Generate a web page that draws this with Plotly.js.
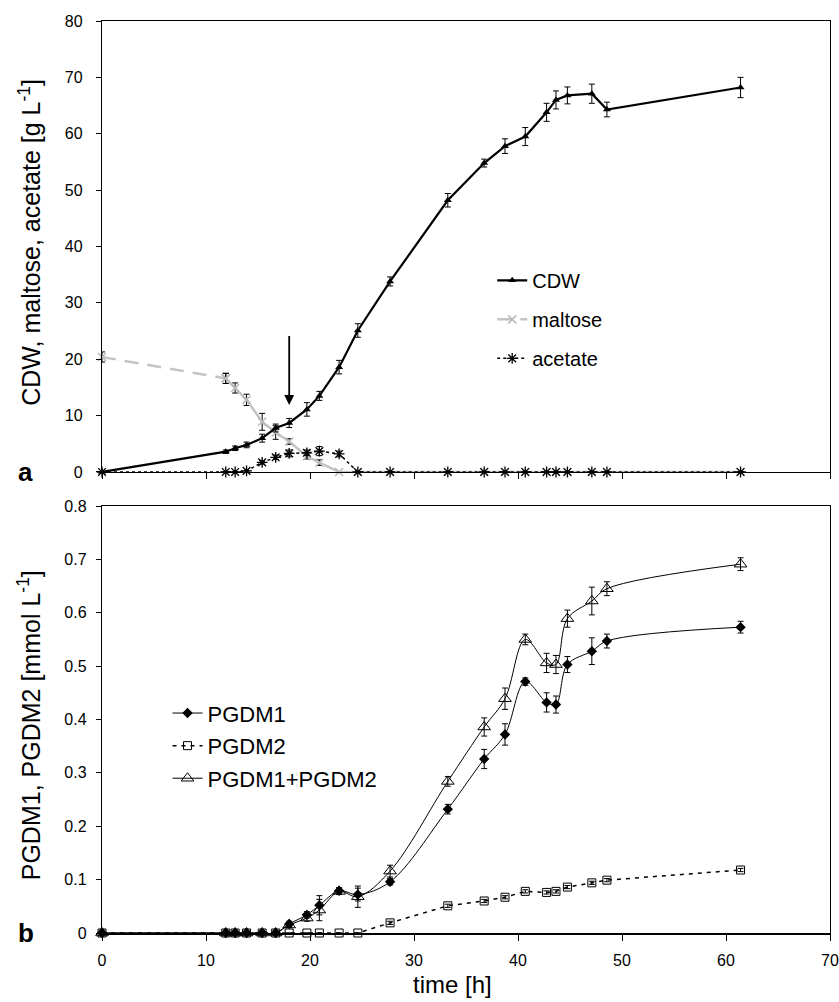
<!DOCTYPE html>
<html>
<head>
<meta charset="utf-8">
<script src="https://cdn.plot.ly/plotly-3.0.1.min.js"></script>
<style>html,body{margin:0;padding:0;background:#fff;}#chart{width:839px;height:1002px;}</style>
</head>
<body>
<div id="chart"></div>
<script>
// ---- data (time in hours) ----
var time = [0, 11.9, 12.8, 13.9, 15.4, 16.7, 18.0, 19.7, 20.9, 22.8, 24.6, 27.7, 33.25, 36.75, 38.75, 40.7, 42.75, 43.65, 44.75, 47.1, 48.55, 61.4];

// panel a  [g L-1]
var cdw      = [0, 3.6, 4.2, 4.8, 6.0, 7.8, 8.7, 11.1, 13.5, 18.6, 25.1, 33.8, 48.2, 54.8, 57.8, 59.5, 63.8, 66.0, 66.8, 67.1, 64.3, 68.2];
var cdwErr   = [0, 0.3, 0.4, 0.5, 0.7, 0.7, 0.8, 1.2, 0.8, 1.2, 1.2, 0.8, 1.2, 0.7, 1.3, 1.6, 1.6, 1.6, 1.5, 1.7, 1.3, 1.8];
var maltose  = [20.4, 16.6, 14.9, 12.8, 8.9, 7.0, 5.4, 2.8, 1.65, 0, 0, 0, 0, 0, 0, 0, 0, 0, 0, 0, 0, 0];
var maltErr  = [0.9, 0.9, 0.9, 1.0, 1.5, 1.2, 0.5, 0.5, 0.5, 0, 0, 0, 0, 0, 0, 0, 0, 0, 0, 0, 0, 0];
var acetate  = [0, 0, 0, 0.2, 1.7, 2.6, 3.3, 3.4, 3.7, 3.2, 0, 0, 0, 0, 0, 0, 0, 0, 0, 0, 0, 0];
var acetErr  = [0, 0, 0, 0, 0.3, 0.4, 0.6, 0.5, 0.8, 0.5, 0, 0, 0, 0, 0, 0, 0, 0, 0, 0, 0, 0];

// panel b  [mmol L-1]
var pgdm1    = [0, 0, 0, 0, 0, 0, 0.017, 0.034, 0.052, 0.079, 0.072, 0.096, 0.232, 0.326, 0.372, 0.471, 0.432, 0.428, 0.503, 0.528, 0.547, 0.573];
var pgdm1Err = [0, 0.003, 0.003, 0.003, 0.003, 0.003, 0.005, 0.006, 0.018, 0.006, 0.012, 0.006, 0.009, 0.018, 0.02, 0.007, 0.018, 0.016, 0.015, 0.025, 0.013, 0.011];
var pgdm2    = [0, 0, 0, 0, 0, 0, 0, 0, 0, 0, 0, 0.019, 0.051, 0.060, 0.067, 0.078, 0.076, 0.078, 0.086, 0.094, 0.099, 0.118];
var pgdm2Err = [0, 0, 0, 0, 0, 0, 0, 0, 0, 0, 0, 0.003, 0.003, 0.003, 0.003, 0.003, 0.003, 0.003, 0.003, 0.003, 0.003, 0.003];
var pgdmSum  = [0, 0, 0, 0, 0, 0, 0.015, 0.028, 0.043, 0.078, 0.068, 0.116, 0.284, 0.386, 0.439, 0.550, 0.506, 0.503, 0.589, 0.622, 0.645, 0.691];
var sumErr   = [0, 0.003, 0.003, 0.003, 0.003, 0.003, 0.005, 0.006, 0.02, 0.006, 0.02, 0.011, 0.009, 0.017, 0.02, 0.01, 0.018, 0.017, 0.016, 0.026, 0.013, 0.012];

var xTicks = [0, 10, 20, 30, 40, 50, 60, 70];

// ---- styling ----
var FONT = 'Liberation Sans, Arial, Helvetica, sans-serif';
function eb(arr, w) { return {type: 'data', array: arr, visible: true, color: '#000', thickness: 1, width: w || 3}; }

var traces = [
  // panel a
  {x: time.slice(0, 2), y: maltose.slice(0, 2), error_y: eb(maltErr.slice(0, 2)), name: 'maltose', legend: 'legend', legendgroup: 'm', legendrank: 2,
   mode: 'lines+markers', line: {color: '#c4c4c4', width: 2.5, dash: '14px,9px'},
   marker: {symbol: 'x-thin-open', size: 8, color: '#b8b8b8', line: {color: '#b8b8b8', width: 1.5}}, cliponaxis: false, xaxis: 'x', yaxis: 'y'},
  {x: time.slice(1), y: maltose.slice(1), error_y: eb(maltErr.slice(1)), name: 'maltose', showlegend: false, legendgroup: 'm',
   mode: 'lines+markers', line: {color: '#c4c4c4', width: 2.5},
   marker: {symbol: 'x-thin-open', size: 8, color: '#b8b8b8', line: {color: '#b8b8b8', width: 1.5}}, cliponaxis: false, xaxis: 'x', yaxis: 'y'},
  {x: time, y: acetate, error_y: eb(acetErr), name: 'acetate', legend: 'legend', legendgroup: 'a', legendrank: 3,
   mode: 'lines+markers', line: {color: '#000', width: 1.5, dash: 'dot'},
   marker: {symbol: 'asterisk-open', size: 9, color: '#000', line: {color: '#000', width: 1.3}}, cliponaxis: false, xaxis: 'x', yaxis: 'y'},
  {x: time, y: cdw, error_y: eb(cdwErr), name: 'CDW', legend: 'legend', legendgroup: 'c', legendrank: 1,
   mode: 'lines+markers', line: {color: '#000', width: 2.2},
   marker: {symbol: 'triangle-up', size: 7, color: '#000'}, cliponaxis: false, xaxis: 'x', yaxis: 'y'},
  // panel b
  {x: time, y: pgdm2, error_y: eb(pgdm2Err), name: 'PGDM2', legend: 'legend2', legendgroup: 'p2', legendrank: 2,
   mode: 'lines+markers', line: {color: '#000', width: 1.5, dash: '4px,5px'},
   marker: {symbol: 'square-open', size: 8, color: '#000', line: {color: '#000', width: 1}}, cliponaxis: false, xaxis: 'x2', yaxis: 'y2'},
  {x: time, y: pgdmSum, error_y: eb(sumErr), name: 'PGDM1+PGDM2', legend: 'legend2', legendgroup: 'p3', legendrank: 3,
   mode: 'lines+markers', line: {color: '#000', width: 1, shape: 'spline', smoothing: 1},
   marker: {symbol: 'triangle-up-open', size: 11, color: '#000', line: {color: '#000', width: 1}}, cliponaxis: false, xaxis: 'x2', yaxis: 'y2'},
  {x: time, y: pgdm1, error_y: eb(pgdm1Err), name: 'PGDM1', legend: 'legend2', legendgroup: 'p1', legendrank: 1,
   mode: 'lines+markers', line: {color: '#000', width: 1, shape: 'spline', smoothing: 1},
   marker: {symbol: 'diamond', size: 8, color: '#000'}, cliponaxis: false, xaxis: 'x2', yaxis: 'y2'}
];

var axisCommon = {showgrid: false, zeroline: false, showline: true, linecolor: '#000', mirror: true,
  ticks: 'outside', tickcolor: '#000', tickfont: {family: FONT, size: 16, color: '#000'}};

var layout = {
  width: 839, height: 1002,
  margin: {l: 102, r: 9, t: 21, b: 69},
  paper_bgcolor: '#fff', plot_bgcolor: '#fff',
  font: {family: FONT, color: '#000'},
  xaxis: Object.assign({}, axisCommon, {domain: [0, 1], anchor: 'y', range: [0, 70], tickvals: xTicks, ticklen: 6, linewidth: 1.5, showticklabels: false}),
  yaxis: Object.assign({}, axisCommon, {domain: [0.5055, 1], anchor: 'x', range: [0, 80], dtick: 10, ticklen: 5, linewidth: 1.2, ticklabelstandoff: 10}),
  xaxis2: Object.assign({}, axisCommon, {domain: [0, 1], anchor: 'y2', range: [0, 70], tickvals: xTicks, ticklen: 6, linewidth: 1.5, ticklabelstandoff: 6}),
  yaxis2: Object.assign({}, axisCommon, {domain: [0, 0.4682], anchor: 'x2', range: [0, 0.8], dtick: 0.1, ticklen: 5, linewidth: 1.2, ticklabelstandoff: 6}),
  legend: {x: 0.536, y: 0.737, xanchor: 'left', yanchor: 'top', bgcolor: 'rgba(0,0,0,0)', borderwidth: 0,
    font: {family: FONT, size: 20, color: '#000'}, traceorder: 'grouped', tracegroupgap: 10, itemwidth: 30},
  legend2: {x: 0.09, y: 0.264, xanchor: 'left', yanchor: 'top', bgcolor: 'rgba(0,0,0,0)', borderwidth: 0,
    font: {family: FONT, size: 22, color: '#000'}, traceorder: 'grouped', tracegroupgap: 1, itemwidth: 30},
  annotations: [
    {xref: 'x', yref: 'y', x: 18, y: 11.9, axref: 'x', ayref: 'y', ax: 18, ay: 24.4, text: '', showarrow: true,
     arrowhead: 2, arrowsize: 1.1, arrowwidth: 1.8, arrowcolor: '#000'},
    {xref: 'paper', yref: 'paper', x: -0.1, y: 0.757, text: 'CDW, maltose, acetate [g L<sup>-1</sup>]', textangle: -90,
     showarrow: false, xanchor: 'center', yanchor: 'middle', font: {family: FONT, size: 25, color: '#000'}},
    {xref: 'paper', yref: 'paper', x: -0.1, y: 0.228, text: 'PGDM1, PGDM2 [mmol L<sup>-1</sup>]', textangle: -90,
     showarrow: false, xanchor: 'center', yanchor: 'middle', font: {family: FONT, size: 25, color: '#000'}},
    {xref: 'paper', yref: 'paper', x: 0.481, y: -0.057, text: 'time [h]', showarrow: false,
     xanchor: 'center', yanchor: 'middle', font: {family: FONT, size: 24, color: '#000'}},
    {xref: 'paper', yref: 'paper', x: -0.105, y: 0.5055, text: '<b>a</b>', showarrow: false,
     xanchor: 'center', yanchor: 'middle', font: {family: FONT, size: 26, color: '#000'}},
    {xref: 'paper', yref: 'paper', x: -0.105, y: 0.0, text: '<b>b</b>', showarrow: false,
     xanchor: 'center', yanchor: 'middle', font: {family: FONT, size: 26, color: '#000'}}
  ]
};

Plotly.newPlot('chart', traces, layout, {displayModeBar: false, staticPlot: true});
</script>
</body>
</html>
